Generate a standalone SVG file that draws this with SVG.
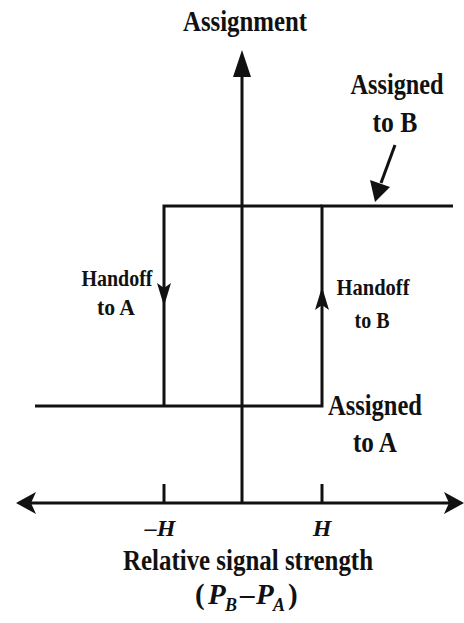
<svg xmlns="http://www.w3.org/2000/svg" width="464" height="623" viewBox="0 0 464 623">
<style>
.ln{stroke:#111;stroke-width:3;fill:none}
.t{font-family:"Liberation Serif","Times New Roman",serif;font-weight:bold;fill:#111}
.big{font-size:29px}
.med{font-size:24px}
.sub{font-size:18px}
.it{font-style:italic}
</style>
<rect width="464" height="623" fill="#fff"/>
<g id="axes">
<line class="ln" x1="242" y1="70" x2="242" y2="503"/>
<polygon points="242,50 233,77 251,77" fill="#111"/>
<line class="ln" x1="30" y1="503" x2="452" y2="503"/>
<polygon points="16,503 36,492 31,503 36,514" fill="#111"/>
<polygon points="464,503 444,492 449,503 444,514" fill="#111"/>
<line class="ln" x1="164" y1="484" x2="164" y2="503" stroke-width="2"/>
<line class="ln" x1="322" y1="484" x2="322" y2="503" stroke-width="2"/>
</g>
<g id="connectors">
<polyline class="ln" points="35,406 322,406 322,206 453,206"/>
<polyline class="ln" points="164,406 164,206 322,206"/>
<polygon points="164,306 157,283 164,288 171,283" fill="#111"/>
<polygon points="322,287 315,310 322,305 329,310" fill="#111"/>
<line class="ln" x1="395" y1="145" x2="381" y2="183" stroke-width="2.5"/>
<polygon points="375,202 370,180 390,187" fill="#111"/>
</g>
<g id="labels">
<text class="t big" x="245" y="31" text-anchor="middle" textLength="124" lengthAdjust="spacingAndGlyphs">Assignment</text>
<text class="t big" x="397" y="94" text-anchor="middle" textLength="93" lengthAdjust="spacingAndGlyphs">Assigned</text>
<text class="t big" x="395" y="132" text-anchor="middle" textLength="45" lengthAdjust="spacingAndGlyphs">to B</text>
<text class="t med" x="117" y="286" text-anchor="middle" textLength="71" lengthAdjust="spacingAndGlyphs">Handoff</text>
<text class="t med" x="116" y="315" text-anchor="middle" textLength="38" lengthAdjust="spacingAndGlyphs">to A</text>
<text class="t med" x="373" y="295" text-anchor="middle" textLength="73" lengthAdjust="spacingAndGlyphs">Handoff</text>
<text class="t med" x="372" y="328" text-anchor="middle" textLength="35" lengthAdjust="spacingAndGlyphs">to B</text>
<text class="t big" x="375" y="415" text-anchor="middle" textLength="94" lengthAdjust="spacingAndGlyphs">Assigned</text>
<text class="t big" x="375" y="452" text-anchor="middle" textLength="44" lengthAdjust="spacingAndGlyphs">to A</text>
<text class="t med it" x="160" y="536" text-anchor="middle">–H</text>
<text class="t med it" x="322" y="536" text-anchor="middle">H</text>
<text class="t big" x="248" y="570" text-anchor="middle" textLength="250" lengthAdjust="spacingAndGlyphs">Relative signal strength</text>
<text class="t big" x="195" y="604">(</text>
<text class="t big it" x="208" y="604">P</text>
<text class="t sub it" x="225" y="611">B</text>
<text class="t big" x="240" y="604">–</text>
<text class="t big it" x="256" y="604">P</text>
<text class="t sub it" x="273" y="611">A</text>
<text class="t big" x="288" y="604">)</text>
</g>
</svg>
